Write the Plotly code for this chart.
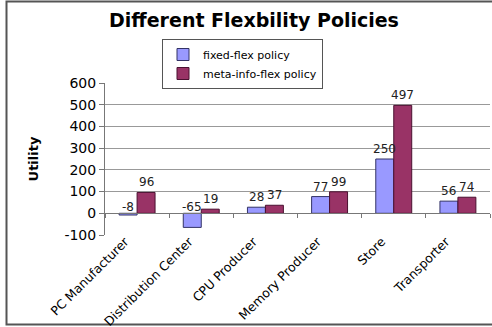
import plotly.graph_objects as go

categories = ["PC Manufacturer", "Distribution Center", "CPU Producer",
              "Memory Producer", "Store", "Transporter"]
fixed_flex = [-8, -65, 28, 77, 250, 56]
meta_info_flex = [96, 19, 37, 99, 497, 74]
y_ticks = [-100, 0, 100, 200, 300, 400, 500, 600]

W, H = 492, 327
L, R, T, B = 105, 2, 83, 92
PW, PH = W - L - R, H - T - B
font = "DejaVu Sans, Verdana, sans-serif"

fig = go.Figure()
fig.add_trace(go.Bar(name="fixed-flex policy", x=categories, y=fixed_flex,
                     marker=dict(color="#9999FF", line=dict(color="#333366", width=1))))
fig.add_trace(go.Bar(name="meta-info-flex policy", x=categories, y=meta_info_flex,
                     marker=dict(color="#993366", line=dict(color="#4a1030", width=1))))

# data labels
for i, c in enumerate(categories):
    for v, off in ((fixed_flex[i], -0.14), (meta_info_flex[i], 0.14)):
        fig.add_annotation(x=i + off, y=max(v, 0), xref="x", yref="y",
                           text=str(v), showarrow=False, yanchor="bottom",
                           yshift=1 if v >= 0 else -3,
                           font=dict(family=font, size=12, color="#222"))

ymin, ymax = y_ticks[0], y_ticks[-1]
zero_pos = (0 - ymin) / (ymax - ymin)

fig.update_layout(
    width=W, height=H,
    margin=dict(l=L, r=R, t=T, b=B, autoexpand=False),
    paper_bgcolor="white", plot_bgcolor="white",
    barmode="group", bargap=0.44, bargroupgap=0,
    title=dict(text="<b>Different Flexbility Policies</b>", x=(254 / W), xanchor="center",
               y=1 - 20 / H, yanchor="middle", font=dict(family=font, size=19, color="black")),
    legend=dict(x=(162 - L) / PW, y=(H - B - 39) / PH, xanchor="left", yanchor="top",
                bordercolor="#555", borderwidth=1, bgcolor="white",
                font=dict(family=font, size=11, color="black"),
                itemwidth=30, tracegroupgap=0),
    showlegend=True,
    xaxis=dict(type="category", showline=False, ticks="", tickangle=-45,
               automargin=False, ticklabelshift=-12, ticklabelstandoff=-4,
               tickfont=dict(family=font, size=12.5, color="black"),
               showgrid=False, zeroline=False),
    xaxis2=dict(overlaying="x", anchor="free", position=zero_pos, range=[-0.5, 5.5],
                tickvals=[i - 0.5 for i in range(len(categories) + 1)],
                ticks="outside", ticklen=4, tickcolor="#777", showticklabels=False,
                automargin=False,
                showline=True, linecolor="#777", showgrid=False, zeroline=False),
    yaxis=dict(range=[ymin, ymax], tickvals=y_ticks, ticktext=[str(v) for v in y_ticks],
               ticks="outside", ticklen=5,
               tickcolor="#777", showline=True, linecolor="#777",
               showgrid=True, gridcolor="#999", gridwidth=1,
               zeroline=False, automargin=False,
               tickfont=dict(family=font, size=14, color="black"),
               title=dict(text="<b>Utility</b>", standoff=22,
                          font=dict(family=font, size=13, color="black"))),
)

# invisible trace to activate xaxis2
fig.add_trace(go.Scatter(x=[0], y=[0], xaxis="x2", yaxis="y", mode="markers",
                         marker=dict(opacity=0), showlegend=False, hoverinfo="skip"))

# outer chart border
fig.add_shape(type="rect", xref="paper", yref="paper",
              x0=(6.5 - L) / PW, x1=1.2,
              y0=(H - B - 324.5) / PH, y1=(H - B - 1.5) / PH,
              line=dict(color="#555", width=2), layer="below")

fig.write_html("out.html")
